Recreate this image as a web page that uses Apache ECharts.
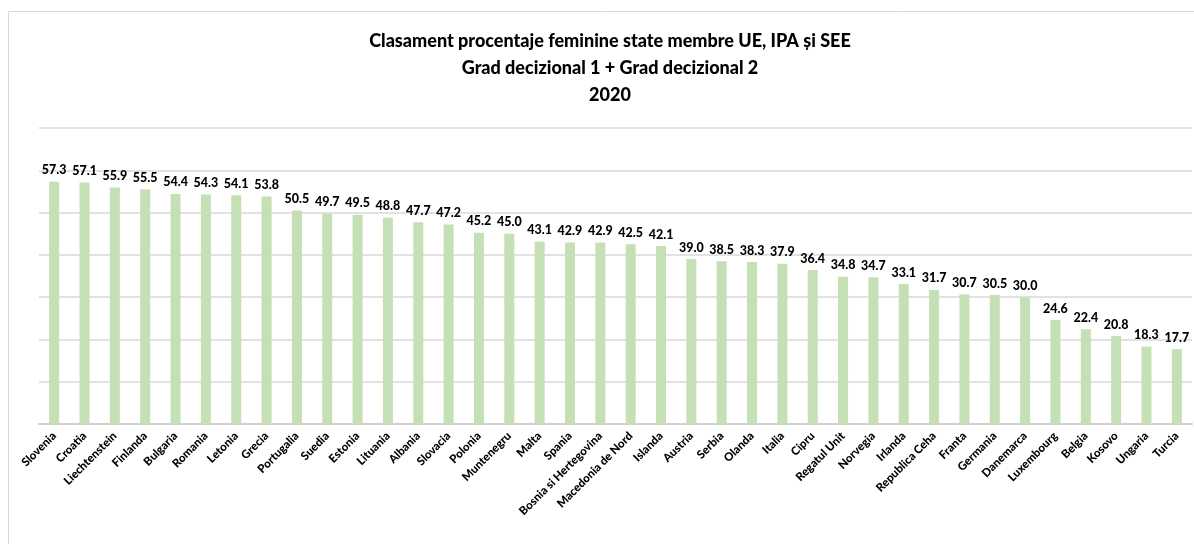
<!DOCTYPE html>
<html style="height: 100%">
<head>
<meta charset="utf-8">
<script src="https://cdn.jsdelivr.net/npm/echarts@6/dist/echarts.min.js"></script>
</head>
<body style="height: 100%; margin: 0; background: #fff">
<div id="container" style="width: 1194px; height: 544px"></div>
<script type="text/javascript">
var countries = ['Slovenia', 'Croatia', 'Liechtenstein', 'Finlanda', 'Bulgaria', 'Romania', 'Letonia', 'Grecia',
  'Portugalia', 'Suedia', 'Estonia', 'Lituania', 'Albania', 'Slovacia', 'Polonia', 'Muntenegru', 'Malta', 'Spania',
  'Bosnia si Hertegovina', 'Macedonia de Nord', 'Islanda', 'Austria', 'Serbia', 'Olanda', 'Italia', 'Cipru',
  'Regatul Unit', 'Norvegia', 'Irlanda', 'Republica Ceha', 'Franta', 'Germania', 'Danemarca', 'Luxembourg',
  'Belgia', 'Kosovo', 'Ungaria', 'Turcia'];
var femalePct = [57.3, 57.1, 55.9, 55.5, 54.4, 54.3, 54.1, 53.8, 50.5, 49.7, 49.5, 48.8, 47.7, 47.2, 45.2, 45.0,
  43.1, 42.9, 42.9, 42.5, 42.1, 39.0, 38.5, 38.3, 37.9, 36.4, 34.8, 34.7, 33.1, 31.7, 30.7, 30.5, 30.0, 24.6,
  22.4, 20.8, 18.3, 17.7];
var titleLines = ['Clasament procentaje feminine state membre UE, IPA și SEE', 'Grad decizional 1 + Grad decizional 2', '2020'];

var font = 'Lato';
var dom = document.getElementById('container');
var myChart = echarts.init(dom);

var option = {
  animation: false,
  textStyle: { fontFamily: font },
  title: {
    text: titleLines.join('\n'),
    left: 605,
    textAlign: 'center',
    top: 23,
    textStyle: {
      fontFamily: font,
      fontSize: 18,
      fontWeight: 900,
      color: '#000',
      lineHeight: 27
    }
  },
  graphic: [{
    type: 'rect',
    shape: { x: 8.5, y: 11.5, width: 1200, height: 560 },
    style: { fill: 'none', stroke: '#d9d9d9', lineWidth: 1 },
    z: -1
  }],
  grid: { left: 39, right: 2, top: 128, bottom: 120 },
  xAxis: {
    type: 'category',
    data: countries,
    axisTick: { show: false },
    axisLine: { lineStyle: { color: '#d0d0d0', width: 2 } },
    axisLabel: {
      interval: 0,
      rotate: 45,
      margin: 10,
      color: '#000',
      fontWeight: 900,
      fontSize: 11.5,
      fontFamily: font
    }
  },
  yAxis: {
    type: 'value',
    min: 0,
    max: 70,
    interval: 10,
    axisLabel: { show: false },
    axisLine: { show: false },
    axisTick: { show: false },
    splitLine: { lineStyle: { color: '#d9d9d9', width: 1.5 } }
  },
  series: [{
    type: 'bar',
    data: femalePct,
    barWidth: 10,
    itemStyle: { color: '#c5e0b4' },
    label: {
      show: true,
      position: 'top',
      distance: 5,
      color: '#000',
      fontWeight: 900,
      fontSize: 12.5,
      fontFamily: font,
      formatter: function (p) { return p.value.toFixed(1); }
    }
  }]
};

myChart.setOption(option, true);
window.onresize = function () {
  myChart.resize();
};
</script>
</body>
</html>
